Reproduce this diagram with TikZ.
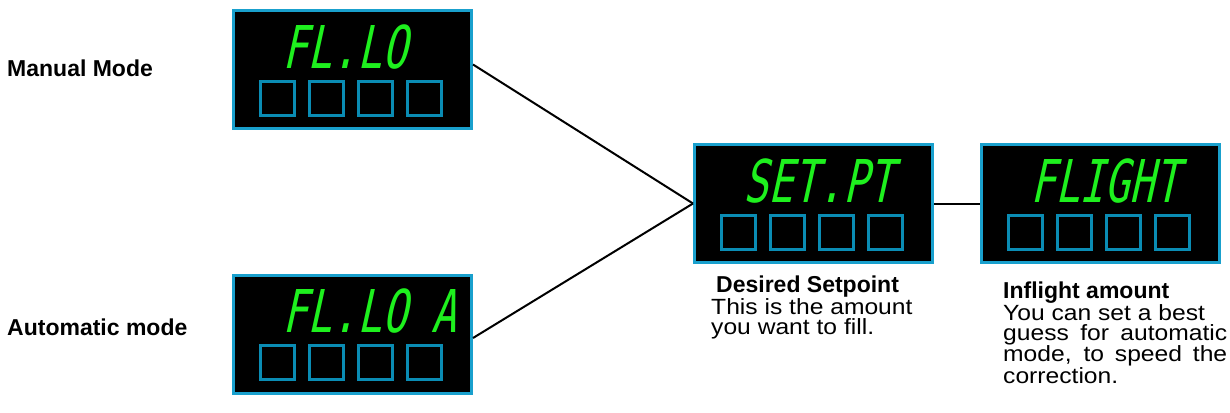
\documentclass[tikz,border=0pt]{standalone}
\usepackage{fontspec}
\setmainfont{Liberation Sans}
\newfontfamily\notefont{Liberation Sans}[FakeStretch=1.12]
\newfontfamily\lcdfont{DejaVu Sans Mono}[FakeStretch=0.7,FakeSlant=0.22]
\usepackage{tikz}
\definecolor{lcdgreen}{RGB}{30,240,30}
\definecolor{lcdframe}{RGB}{25,160,205}
\definecolor{keyblue}{RGB}{10,140,180}

\begin{document}
\begin{tikzpicture}[
  x=1pt, y=-1pt,
  lcd/.style={draw=lcdframe, fill=black, line width=3pt, minimum width=238pt, minimum height=118pt, inner sep=0pt},
  digits/.style={text=lcdgreen, inner sep=0pt, font=\lcdfont\fontsize{59}{59}\selectfont},
  key/.style={draw=keyblue, line width=3pt, minimum size=34pt, inner sep=0pt},
  wire/.style={draw=black, line width=2pt},
  mode/.style={inner sep=0pt, font=\fontsize{23}{26}\selectfont\bfseries},
  note/.style={align=left, inner sep=0pt, font=\notefont\fontsize{22}{19.5}\selectfont}
]
  \useasboundingbox (0,0) rectangle (1230,412);

  \foreach \n/\x/\y/\t in {manual/352.5/69.5/FL.LO, automatic/352.5/334/FL.LO A, setpt/813.5/203.5/SET.PT, flight/1100/203.5/FLIGHT} {
    \node[lcd] (\n) at (\x,\y) {};
    \node[digits, anchor=base west] (\n-digits) at ([xshift=-70pt, yshift=1.5pt]\n.center) {\t};
    \foreach \k in {0,...,3}
      \node[key] (\n-key\k) at ([xshift={(49*\k-75)*1pt}, yshift=-28.5pt]\n.center) {};
  }

  \node[mode, anchor=base west] (manuallabel) at (7,77) {Manual Mode};
  \node[mode, anchor=base west] (autolabel) at (7,335) {Automatic mode};

  \draw[wire] ([yshift=5pt]manual.east) -- (setpt.west);
  \draw[wire] ([yshift=-4pt]automatic.east) -- (setpt.west);
  \draw[wire] (setpt) -- (flight);

  \node[note, anchor=north west] (setptnote) at (711,276) {\hspace*{5pt}{\rmfamily\fontsize{23}{19.5}\selectfont\bfseries Desired Setpoint}\\This is the amount\\you want to fill.};
  \node[note, anchor=north west] (flightnote) at (1003,282) {{\rmfamily\fontsize{23}{19.5}\selectfont\bfseries Inflight amount}\\You can set a best\\\makebox[224pt][s]{guess for automatic}\\\makebox[224pt][s]{mode, to speed the}\\correction.};
\end{tikzpicture}
\end{document}
